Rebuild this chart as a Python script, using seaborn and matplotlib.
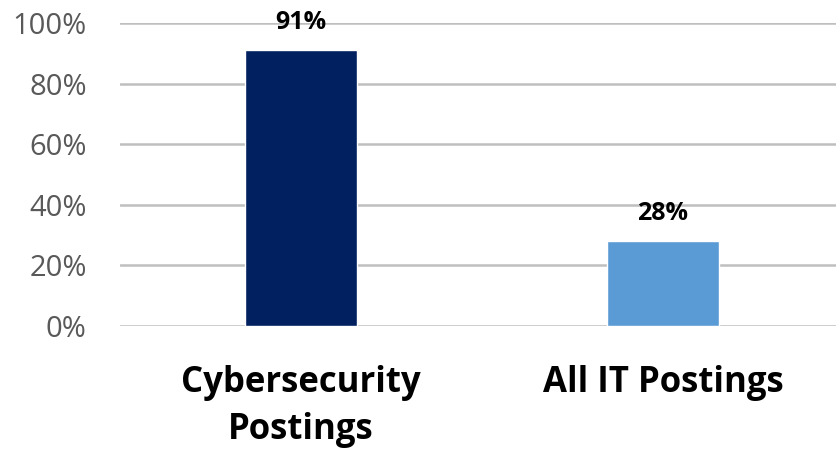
import matplotlib
matplotlib.use("Agg")
import matplotlib.pyplot as plt
import seaborn as sns
import pandas as pd

categories = ["Cybersecurity\nPostings", "All IT Postings"]
values = [91, 28]
bar_colors = ["#002060", "#5B9BD5"]
yticks = [0, 20, 40, 60, 80, 100]
ytick_labels = ["0%", "20%", "40%", "60%", "80%", "100%"]

sns.set_theme(style="white")
plt.rcParams["font.family"] = ["Open Sans", "DejaVu Sans"]

df = pd.DataFrame({"category": categories, "value": values})

fig = plt.figure(figsize=(8.36, 4.51), dpi=100)
ax = fig.add_axes([0.1435, 0.277, 0.8565, 0.672])

sns.barplot(data=df, x="category", y="value", hue="category",
            palette=bar_colors, width=0.31, saturation=1, ax=ax,
            legend=False, zorder=3)

ax.set_ylim(0, 100)
ax.set_xlim(-0.5, 1.478)
ax.set_yticks(yticks)
ax.set_yticklabels(ytick_labels)
ax.yaxis.grid(True, color="#BFBFBF", linewidth=1.8, zorder=0)
ax.set_axisbelow(True)
for s in ax.spines.values():
    s.set_visible(False)
ax.set_xlabel("")
ax.set_ylabel("")
ax.tick_params(axis="y", length=0, pad=24, labelsize=21, labelcolor="#595959")
ax.tick_params(axis="x", length=0, pad=28)
for lab in ax.get_xticklabels():
    lab.set_fontsize(25)
    lab.set_fontweight("bold")
    lab.set_color("black")
    lab.set_linespacing(1.4)
    lab.set_verticalalignment("top")

for i, v in enumerate(values):
    ax.annotate(f"{v}%", xy=(i, v), xytext=(0, 20), textcoords="offset points",
                ha="center", va="center", fontsize=18, fontweight="bold",
                color="black", annotation_clip=False)

fig.savefig("out.png", dpi=100)
